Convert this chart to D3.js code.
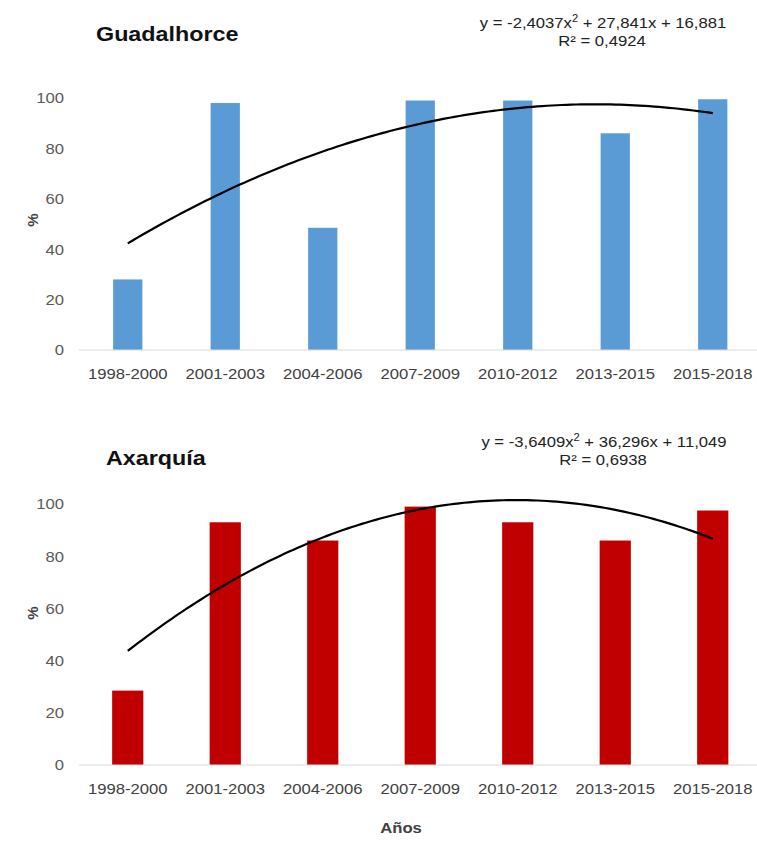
<!DOCTYPE html>
<html>
<head>
<meta charset="utf-8">
<script src="https://cdn.jsdelivr.net/npm/d3@7"></script>
<style>
  html, body { margin: 0; padding: 0; background: #fff; }
  svg { display: block; font-family: "Liberation Sans", Arial, sans-serif; }
</style>
</head>
<body>
<svg id="chart" width="757" height="842"></svg>
<script>
// Periods on the x axis
const categories = ["1998-2000", "2001-2003", "2004-2006", "2007-2009", "2010-2012", "2013-2015", "2015-2018"];

// Percentages per period for each region
const guadalhorceValues = [28, 98, 48.5, 99, 99, 86, 99.5];
const axarquiaValues = [28.5, 93, 86, 99, 93, 86, 97.5];

// Polynomial trend coefficients (a x² + b x + c) and R²
const guadalhorceFit = [-2.4037, 27.841, 16.881];
const guadalhorceR2 = "0,4924";
const axarquiaFit = [-3.6409, 36.296, 11.049];
const axarquiaR2 = "0,6938";

const yTicks = [0, 20, 40, 60, 80, 100];

const svg = d3.select("#chart");
const WIDEN = 1.11; // text is set slightly wide

function fmt(v) {
  return String(Math.abs(v)).replace(".", ",");
}

// widen each text element horizontally while keeping its anchor
function widen(sel, k = WIDEN) {
  sel.each(function () {
    const len = this.getComputedTextLength();
    d3.select(this).attr("textLength", len * k).attr("lengthAdjust", "spacingAndGlyphs");
  });
}

function drawPanel(opts) {
  const g = svg.append("g");
  const x = d3.scaleBand().domain(categories).range([79, 761.5]).paddingInner(opts.pad).paddingOuter(opts.pad / 2);
  const y = d3.scaleLinear().domain([0, 100]).range([opts.y0, opts.y100]);

  // Bars
  g.selectAll("rect.bar").data(opts.values).join("rect")
    .attr("class", "bar")
    .attr("x", (d, i) => x(categories[i]))
    .attr("width", x.bandwidth())
    .attr("y", d => y(d))
    .attr("height", d => y(0) - y(d))
    .attr("fill", opts.color);

  // Baseline
  g.append("line")
    .attr("x1", 79).attr("x2", 757)
    .attr("y1", y(0)).attr("y2", y(0))
    .attr("stroke", "#d9d9d9").attr("stroke-width", 1.2);

  // Y tick labels
  const yAxis = d3.axisLeft(y).tickValues(yTicks).tickSize(0).tickPadding(0);
  const ya = g.append("g").attr("transform", "translate(64,0)").call(yAxis);
  ya.select(".domain").remove();
  ya.selectAll("text").attr("font-size", 15).attr("fill", "#595959")
    .attr("font-family", "'Liberation Sans', Arial, sans-serif")
    .call(widen);

  // X tick labels
  const xAxis = d3.axisBottom(x).tickSize(0).tickPadding(0);
  const xa = g.append("g").attr("transform", `translate(0,${y(0) + 18})`).call(xAxis);
  xa.select(".domain").remove();
  xa.selectAll("text").attr("font-size", 15).attr("fill", "#404040")
    .attr("font-family", "'Liberation Sans', Arial, sans-serif")
    .call(widen);

  // Quadratic trend line through category positions 1..7
  const [a, b, c] = opts.fit;
  const xi = d3.scaleLinear().domain([1, categories.length])
    .range([x(categories[0]) + x.bandwidth() / 2, x(categories[categories.length - 1]) + x.bandwidth() / 2]);
  const pts = d3.range(1, 7.0001, 0.05).map(t => [xi(t), y(a * t * t + b * t + c)]);
  g.append("path")
    .attr("d", d3.line()(pts))
    .attr("fill", "none").attr("stroke", "#000").attr("stroke-width", 2.2);

  // Title
  g.append("text").attr("x", opts.titleX).attr("y", opts.titleY)
    .attr("font-size", 21).attr("font-weight", "bold").attr("fill", "#111")
    .text(opts.title)
    .call(widen);

  // Y axis label
  g.append("text")
    .attr("transform", `translate(38,${opts.labelY}) rotate(-90)`)
    .attr("text-anchor", "middle").attr("font-size", 15).attr("font-weight", "bold").attr("fill", "#404040")
    .text("%");

  // Trend equation
  const eq = g.append("text").attr("x", opts.eqX).attr("y", opts.eqY)
    .attr("text-anchor", "middle").attr("font-size", 15).attr("fill", "#222");
  eq.append("tspan").text(`y = -${fmt(-a)}x`);
  eq.append("tspan").attr("dy", -6).attr("font-size", 10).text("2");
  eq.append("tspan").attr("dy", 6).text(` + ${fmt(b)}x + ${fmt(c)}`);
  eq.call(widen);

  g.append("text").attr("x", opts.eqX - 1).attr("y", opts.eqY + 17.5)
    .attr("text-anchor", "middle").attr("font-size", 15).attr("fill", "#222")
    .text(`R² = ${opts.r2}`)
    .call(widen);
}

drawPanel({
  values: guadalhorceValues, fit: guadalhorceFit, r2: guadalhorceR2,
  color: "#5b9bd5", pad: 0.7, y0: 350, y100: 98,
  title: "Guadalhorce", titleX: 96, titleY: 40.5, labelY: 220,
  eqX: 603, eqY: 28
});

drawPanel({
  values: axarquiaValues, fit: axarquiaFit, r2: axarquiaR2,
  color: "#c00000", pad: 0.68, y0: 765, y100: 504,
  title: "Axarquía", titleX: 106, titleY: 465, labelY: 613,
  eqX: 604, eqY: 447
});

// Shared x axis title
svg.append("text").attr("x", 401).attr("y", 833)
  .attr("text-anchor", "middle").attr("font-size", 15).attr("font-weight", "bold").attr("fill", "#404040")
  .text("Años")
  .call(widen);
</script>
</body>
</html>
